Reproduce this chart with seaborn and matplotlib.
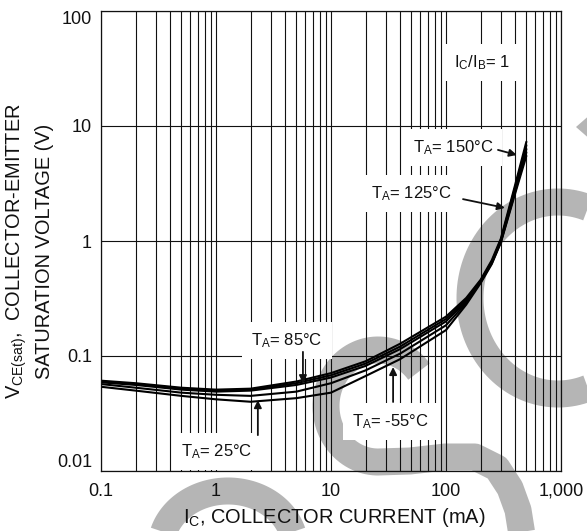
import numpy as np
import pandas as pd
import matplotlib
matplotlib.use("Agg")
import matplotlib.pyplot as plt
from matplotlib.ticker import LogLocator, NullFormatter, NullLocator, FixedLocator, FixedFormatter
from matplotlib.patches import Polygon
import seaborn as sns

# ---------------- data ----------------
ic_ma = [0.1, 0.2, 0.5, 1, 2, 5, 10, 20, 40, 100, 150, 200, 250, 300, 400, 500]
vce_150 = [0.061, 0.058, 0.053, 0.051, 0.052, 0.060, 0.071, 0.090, 0.128, 0.22, 0.32, 0.46, 0.68, 1.05, 3.1, 7.3]
vce_125 = [0.060, 0.057, 0.052, 0.050, 0.051, 0.058, 0.068, 0.086, 0.121, 0.21, 0.31, 0.45, 0.66, 1.02, 2.95, 6.8]
vce_85 = [0.059, 0.056, 0.051, 0.049, 0.050, 0.056, 0.065, 0.082, 0.115, 0.20, 0.30, 0.45, 0.65, 1.00, 2.8, 6.3]
vce_25 = [0.057, 0.053, 0.048, 0.046, 0.045, 0.049, 0.058, 0.075, 0.105, 0.185, 0.29, 0.44, 0.64, 0.98, 2.7, 5.9]
vce_m55 = [0.054, 0.050, 0.045, 0.042, 0.040, 0.043, 0.048, 0.067, 0.094, 0.168, 0.28, 0.43, 0.63, 0.97, 2.6, 5.5]
temps = ["150", "125", "85", "25", "-55"]

x_ticks = [0.1, 1, 10, 100, 1000]
x_tick_labels = ["0.1", "1", "10", "100", "1,000"]
y_ticks = [0.01, 0.1, 1, 10, 100]
y_tick_labels = ["0.01", "0.1", "1", "10", "100"]

series = {"150": vce_150, "125": vce_125, "85": vce_85, "25": vce_25, "-55": vce_m55}
df = pd.concat(
    [pd.DataFrame({"ic": ic_ma, "vce": series[t], "temp": t}) for t in temps],
    ignore_index=True,
)

# ---------------- style ----------------
sns.set_style("white")
plt.rcParams["font.family"] = ["Liberation Sans", "DejaVu Sans"]
plt.rcParams["mathtext.fontset"] = "custom"
plt.rcParams["mathtext.rm"] = "Liberation Sans"
plt.rcParams["mathtext.it"] = "Liberation Sans"

W, H = 587, 531
fig = plt.figure(figsize=(W / 100, H / 100), dpi=100, facecolor="white")

# ---------------- background watermark (decoration) ----------------
bg = fig.add_axes([0, 0, 1, 1], zorder=0)
bg.set_xlim(0, W)
bg.set_ylim(H, 0)
bg.axis("off")
grey = "#b5b5b5"
sw = 27 * 0.72  # stroke width in points

t = np.radians(np.linspace(62, 298, 200))
bg.plot(558 + 88 * np.cos(t), 298 - 96 * np.sin(t), color=grey, lw=sw, solid_capstyle="butt")

t = np.radians(np.linspace(0, 180, 120))
bg.plot(228 + 67 * np.cos(t), 548 - 57 * np.sin(t), color=grey, lw=sw, solid_capstyle="butt")

t = np.radians(np.linspace(38, 270, 150))
sx = list(378 + 52 * np.cos(t)) + [410, 445, 475, 497, 510, 518, 522]
sy = list(406 - 56 * np.sin(t)) + [461, 457, 457, 468, 488, 510, 535]
bg.plot(sx, sy, color=grey, lw=sw, solid_capstyle="butt", solid_joinstyle="round")

bg.add_patch(Polygon([(576, 127), (592, 113), (592, 141)], closed=True, color=grey, lw=0))

# ---------------- main axes ----------------
ax = fig.add_axes([101 / W, (H - 471) / H, 460 / W, 460 / H], zorder=1)
ax.set_facecolor("none")

sns.lineplot(
    data=df, x="ic", y="vce", hue="temp", hue_order=temps,
    palette={k: "black" for k in temps}, estimator=None, sort=True,
    legend=False, lw=1.5, ax=ax,
)

ax.set_xscale("log")
ax.set_yscale("log")
ax.set_xlim(0.1, 1000)
ax.set_ylim(0.01, 100)

ax.xaxis.set_major_locator(FixedLocator(x_ticks))
ax.xaxis.set_major_formatter(FixedFormatter(x_tick_labels))
ax.xaxis.set_minor_locator(LogLocator(base=10, subs=np.arange(2, 10)))
ax.xaxis.set_minor_formatter(NullFormatter())
ax.yaxis.set_major_locator(FixedLocator(y_ticks))
ax.yaxis.set_major_formatter(FixedFormatter(y_tick_labels))
ax.yaxis.set_minor_locator(NullLocator())

ax.set_axisbelow(True)
ax.grid(True, which="major", axis="both", color="#111111", lw=0.8)
ax.grid(True, which="minor", axis="x", color="#111111", lw=0.8)
ax.tick_params(which="both", length=0)
ax.tick_params(axis="x", pad=8.5, labelsize=13, colors="#111111")
ax.tick_params(axis="y", pad=6.5, labelsize=13, colors="#111111")
for s in ax.spines.values():
    s.set_color("#111111")
    s.set_linewidth(0.9)

ylabels = ax.get_yticklabels()
ylabels[0].set_va("bottom")
ylabels[-1].set_va("top")

ax.set_xlabel(r"I$_\mathregular{C}$, COLLECTOR CURRENT (mA)", fontsize=14.4, color="#111111")
ax.xaxis.set_label_coords(0.508, -0.076)
ax.set_ylabel(
    "V$_\\mathregular{CE(sat)}$,  COLLECTOR-EMITTER\nSATURATION VOLTAGE (V)",
    fontsize=14.4, color="#111111", linespacing=1.4,
)
ax.yaxis.label.set_va("center")
ax.yaxis.set_label_coords(-0.157, 0.478)

# ---------------- annotations ----------------
box = dict(facecolor="white", edgecolor="none", boxstyle="square,pad=0.55")
tkw = dict(transform=ax.transAxes, ha="center", va="center", fontsize=12,
           color="#111111", bbox=box, zorder=4)
ax.text(0.828, 0.887, r"I$_\mathregular{C}$/I$_\mathregular{B}$= 1", **tkw)
ax.text(0.765, 0.704, r"T$_\mathregular{A}$= 150°C", **tkw)
ax.text(0.674, 0.604, r"T$_\mathregular{A}$= 125°C", **tkw)
ax.text(0.404, 0.283, r"T$_\mathregular{A}$= 85°C", **tkw)
ax.text(0.252, 0.043, r"T$_\mathregular{A}$= 25°C", **tkw)
ax.text(0.630, 0.107, r"T$_\mathregular{A}$= -55°C", **tkw)

akw = dict(arrowstyle="-|>", color="#111111", lw=1.3, mutation_scale=11,
           shrinkA=0, shrinkB=0)
arrows = [
    ((0.904, 0.687), (0.863, 0.698)),
    ((0.878, 0.572), (0.787, 0.591)),
    ((0.439, 0.191), (0.439, 0.259)),
    ((0.341, 0.154), (0.341, 0.078)),
    ((0.635, 0.226), (0.635, 0.150)),
]
for tip, tail in arrows:
    ax.annotate("", xy=tip, xytext=tail, xycoords="axes fraction",
                textcoords="axes fraction", arrowprops=akw, zorder=5)

fig.savefig("out.png", dpi=100, facecolor="white")
